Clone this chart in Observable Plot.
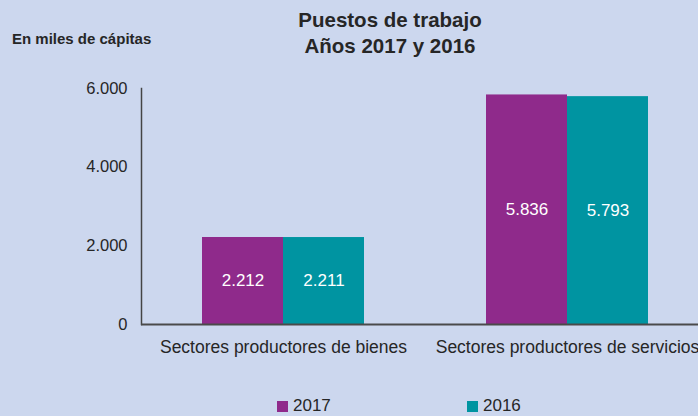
<!DOCTYPE html>
<html>
<head>
<meta charset="utf-8">
<script src="https://cdn.jsdelivr.net/npm/d3@7"></script>
<script src="https://cdn.jsdelivr.net/npm/@observablehq/plot@0.6"></script>
<style>
  html, body { margin: 0; padding: 0; }
  body { width: 698px; height: 416px; overflow: hidden; background: #ccd7ee; font-family: "Liberation Sans", Arial, sans-serif; }
  #wrap { position: relative; width: 698px; height: 416px; background: #ccd7ee; color: #262626; }
  #title { position: absolute; left: 190px; width: 400px; top: 7px; text-align: center; font-weight: bold; font-size: 20.5px; line-height: 26px; }
  #ylab { position: absolute; left: 12px; top: 30px; font-weight: bold; font-size: 15px; white-space: nowrap; }
  #chart { position: absolute; left: 0; top: 0; }
  .leg { position: absolute; top: 397px; font-size: 17px; line-height: 18px; white-space: nowrap; }
  .sw { display: inline-block; width: 11px; height: 11px; margin-right: 5px; vertical-align: -1px; }
</style>
</head>
<body>
<div id="wrap">
  <div id="chart"></div>
  <div id="title">Puestos de trabajo<br>Años 2017 y 2016</div>
  <div id="ylab">En miles de cápitas</div>
  <div id="legend"></div>
</div>
<script>
const categories = ["Sectores productores de bienes", "Sectores productores de servicios"];
const years = ["2017", "2016"];
const values2017 = [2212, 5836];
const values2016 = [2211, 5793];
const yTicks = [0, 2000, 4000, 6000];
const colors = ["#8f2a8b", "#0094a1"];

const fmt = v => v === 0 ? "0" : d3.format(",")(v).replace(/,/g, ".");

const d2017 = categories.map((c, i) => ({cat: c, year: years[0], value: values2017[i]}));
const d2016 = categories.map((c, i) => ({cat: c, year: years[1], value: values2016[i]}));

const chart = Plot.plot({
  width: 698,
  height: 370,
  marginTop: 88,
  marginBottom: 46,
  marginLeft: 141,
  marginRight: -11,
  style: {background: "transparent", fontFamily: "Liberation Sans, Arial, sans-serif", color: "#262626", overflow: "visible"},
  x: {domain: categories, padding: 0, label: null},
  y: {domain: [0, 6000], label: null},
  marks: [
    Plot.barY(d2017, {x: "cat", y: "value", fill: colors[0], insetLeft: 61, insetRight: 142}),
    Plot.barY(d2016, {x: "cat", y: "value", fill: colors[1], insetLeft: 142, insetRight: 61}),
    Plot.text(d2017, {x: "cat", y: d => d.value / 2, text: d => fmt(d.value), dx: -40.5, fill: "white", fontSize: 17}),
    Plot.text(d2016, {x: "cat", y: d => d.value / 2, text: d => fmt(d.value), dx: 40.5, fill: "white", fontSize: 17}),
    Plot.axisY({ticks: yTicks, tickFormat: fmt, tickSize: 0, tickPadding: 14, fontSize: 16.5, fill: "#262626", label: null}),
    Plot.axisX({tickSize: 0, tickPadding: 16, fontSize: 17.5, fill: "#262626", label: null}),
    Plot.frame({anchor: "left", stroke: "#444", strokeWidth: 1.5}),
    Plot.ruleY([0], {stroke: "#4a4a4a", strokeWidth: 2})
  ]
});
document.getElementById("chart").appendChild(chart);

const legend = document.getElementById("legend");
const legX = [277, 467];
years.forEach((y, i) => {
  const el = document.createElement("div");
  el.className = "leg";
  el.style.left = legX[i] + "px";
  el.innerHTML = `<span class="sw" style="background:${colors[i]}"></span>${y}`;
  legend.appendChild(el);
});
</script>
</body>
</html>
